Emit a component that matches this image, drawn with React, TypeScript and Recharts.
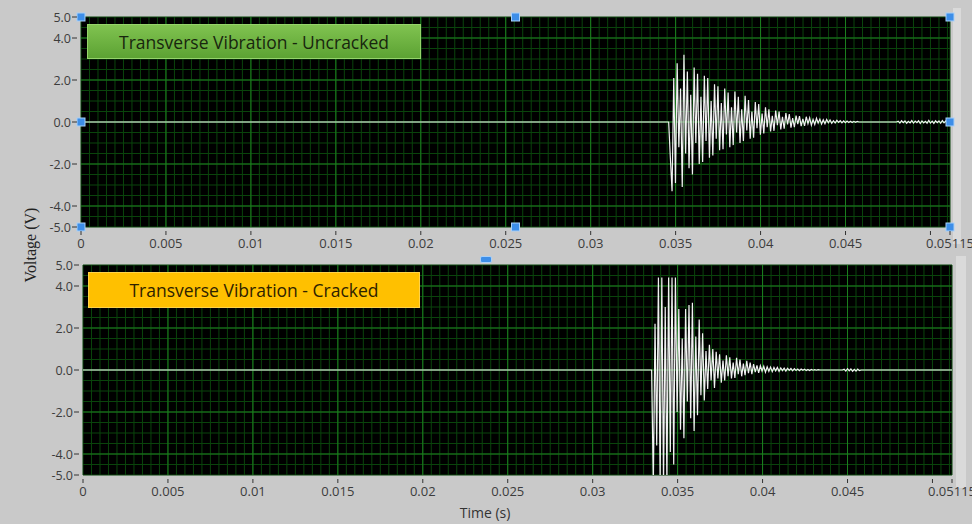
import React from "react"
import { LineChart, Line, XAxis, YAxis, CartesianGrid, ReferenceLine, ReferenceDot } from "recharts"

// axis ticks (labels only on the major ones)
const xMajorTicks = [0, 0.005, 0.01, 0.015, 0.02, 0.025, 0.03, 0.035, 0.04, 0.045, 0.05, 0.05115]
const xTickLabels = ["0", "0.005", "0.01", "0.015", "0.02", "0.025", "0.03", "0.035", "0.04", "0.045", "", "0.05115"]
const yMajorTicks = [5, 4, 2, 0, -2, -4, -5]
const yTickLabels = ["5.0", "4.0", "2.0", "0.0", "-2.0", "-4.0", "-5.0"]
const xEnd = 0.05115
const xMinorStep = 0.0005
const yMinorStep = 0.5

// sampled waveform: t0 + i * dt, like a LabVIEW waveform
const dt = 0.0001

const uncrackedBurstStart = 0.03459
const uncrackedBurst = [
  -1.7, -3.3, 2.1, -2.9, 2.8, -1.2, 1.6, -3.1, 3.2, -1.5,
  2.4, -2.2, 1.3, -2.5, 2.6, -1.0, 2.3, -2.0, 1.2, -1.9,
  2.2, -0.9, 2.1, -1.7, 1.0, -1.6, 1.8, -0.8, 1.7, -1.35,
  0.9, -1.3, 1.6, -0.6, 1.4, -1.2, 0.7, -1.1, 1.45, -0.5,
  1.2, -1.0, 0.6, -0.9, 1.25, -0.4, 1.05, -0.8, 0.5, -0.75,
  0.95, -0.3, 0.85, -0.6, 0.4, -0.55, 0.7, -0.25, 0.6, -0.45,
  0.3, -0.42, 0.55, -0.15, 0.5, -0.35, 0.25, -0.32, 0.42, -0.12,
  0.38, -0.27, 0.18, -0.25, 0.3, -0.1, 0.28, -0.2, 0.15, -0.18,
  0.25, -0.08, 0.2, -0.15, 0.12, -0.12, 0.18, -0.05, 0.14, -0.1,
  0.1, -0.08, 0.12, -0.04, 0.1, -0.06, 0.06, -0.05, 0.08, -0.02,
  0.06, -0.04, 0.05, -0.03, 0.05, -0.02, 0.04, -0.02, 0.03, -0.01, 0.03,
]
const uncrackedTailStart = 0.048
const uncrackedTail = [
  0.04, -0.05, 0.06, -0.03, 0.05, -0.06, 0.03, -0.04, 0.07, -0.05,
  0.04, -0.03, 0.06, -0.07, 0.05, -0.04, 0.03, -0.06, 0.08, -0.05,
  0.04, -0.07, 0.06, -0.03, 0.05, -0.06, 0.07, -0.04, 0.05, -0.08,
]

const crackedBurstStart = 0.03347
const crackedBurst = [
  -5.5, 2.2, -3.6, 4.4, -5.5, 4.4, -5.5, 3.0, -5.5, 4.4,
  -3.9, 4.4, -4.5, 4.4, -2.0, 2.9, -2.85, 1.5, -3.25, 2.9,
  -1.5, 3.1, -2.3, 3.2, -2.9, 1.6, -2.15, 2.4, -1.2, 1.75,
  -1.45, 0.9, -0.9, 1.2, -0.5, 1.0, -0.85, 0.87, -0.4, 0.75,
  -0.6, 0.45, -0.5, 0.7, -0.3, 0.6, -0.4, 0.35, -0.38, 0.58,
  -0.2, 0.5, -0.3, 0.3, -0.25, 0.44, -0.15, 0.35, -0.2, 0.28,
  -0.1, 0.22, -0.14, 0.2, -0.05, 0.18, -0.1, 0.15, -0.06, 0.14,
  -0.08, 0.12, -0.04, 0.12, -0.06, 0.1, -0.03, 0.09, -0.05, 0.08,
  -0.02, 0.07, -0.04, 0.06, -0.02, 0.05, -0.03, 0.05, -0.01, 0.04,
  -0.02, 0.03, -0.02, 0.03, -0.01, 0.02, -0.01, 0.02,
]
const crackedTailStart = 0.0447
const crackedTail = [0.04, -0.05, 0.06, -0.04, 0.05, -0.06, 0.03, -0.05, 0.04, -0.03]

function buildSeries(burstStart: number, burst: number[], tailStart: number, tail: number[]) {
  const pts: { t: number; v: number }[] = [{ t: 0, v: 0 }, { t: burstStart, v: 0 }]
  burst.forEach((v, i) => pts.push({ t: burstStart + (i + 1) * dt, v }))
  pts.push({ t: burstStart + (burst.length + 1) * dt, v: 0 })
  pts.push({ t: tailStart, v: 0 })
  tail.forEach((v, i) => pts.push({ t: tailStart + (i + 1) * dt, v }))
  pts.push({ t: tailStart + (tail.length + 1) * dt, v: 0 })
  pts.push({ t: xEnd, v: 0 })
  return pts
}

const uncrackedData = buildSeries(uncrackedBurstStart, uncrackedBurst, uncrackedTailStart, uncrackedTail)
const crackedData = buildSeries(crackedBurstStart, crackedBurst, crackedTailStart, crackedTail)

const xMinorTicks: number[] = []
for (let i = 0; i * xMinorStep < xEnd; i++) xMinorTicks.push(Number((i * xMinorStep).toFixed(4)))
xMinorTicks.push(xEnd)
const yMinorTicks: number[] = []
for (let i = 0; i <= 20; i++) yMinorTicks.push(-5 + i * yMinorStep)

const handleXs = [0, xEnd / 2, xEnd]
const handleYs = [5, 0, -5]

const TICK_FONT = '"Open Sans", "Noto Sans", sans-serif'
const MINOR_GRID = "#0a440c"
const MAJOR_GRID = "#1c7f1f"

const XTick = (props: any) => {
  const { x, y, payload } = props
  const idx = xMajorTicks.findIndex((m) => Math.abs(m - payload.value) < 1e-7)
  if (idx < 0) return null
  return (
    <g>
      <line x1={x} x2={x} y1={y + 4} y2={y + 8} stroke="#333" />
      <text x={x} y={y + 21} textAnchor="middle" fontSize={13} fill="#3c3c3c" fontFamily={TICK_FONT}>
        {xTickLabels[idx]}
      </text>
    </g>
  )
}

const YTick = (props: any) => {
  const { x, y, payload } = props
  const idx = yMajorTicks.findIndex((m) => Math.abs(m - payload.value) < 1e-7)
  if (idx < 0) return null
  return (
    <g>
      <line x1={x - 9} x2={x - 4} y1={y} y2={y} stroke="#333" />
      <text x={x - 10} y={y + 4.5} textAnchor="end" fontSize={12.5} fill="#3c3c3c" fontFamily={TICK_FONT}>
        {yTickLabels[idx]}
      </text>
    </g>
  )
}

const Handle = (props: any) => (
  <rect x={props.cx - 4} y={props.cy - 4} width={8} height={8} fill="#3d8ee8" stroke="#a8d0f8" strokeWidth={1} />
)

function Panel({ data, top, yWidth, right, handles }: { data: any[]; top: number; yWidth: number; right: number; handles?: boolean }) {
  return (
    <div style={{ position: "absolute", left: 0, top }}>
      <LineChart width={972} height={270} data={data} margin={{ top: 17, right, bottom: 0, left: 0 }}>
        <CartesianGrid stroke={MINOR_GRID} fill="#000" strokeWidth={1} />
        <XAxis
          dataKey="t"
          type="number"
          domain={[0, xEnd]}
          ticks={xMinorTicks}
          interval={0}
          tick={<XTick />}
          tickLine={false}
          axisLine={false}
          tickSize={0}
          tickMargin={0}
          height={43}
          allowDataOverflow
        />
        <YAxis
          type="number"
          domain={[-5, 5]}
          ticks={yMinorTicks}
          interval={0}
          tick={<YTick />}
          tickLine={false}
          axisLine={false}
          tickSize={0}
          tickMargin={0}
          width={yWidth}
          allowDataOverflow
        />
        {xMajorTicks.slice(1, -2).map((v) => (
          <ReferenceLine key={"x" + v} x={v} stroke={MAJOR_GRID} strokeWidth={1} />
        ))}
        {[4, 2, 0, -2, -4].map((v) => (
          <ReferenceLine key={"y" + v} y={v} stroke={MAJOR_GRID} strokeWidth={1} />
        ))}
        <Line type="linear" dataKey="v" stroke="#f2f2f2" strokeWidth={1.2} dot={false} isAnimationActive={false} />
        {handles &&
          handleXs.flatMap((hx) =>
            handleYs
              .filter((hy) => !(hx === xEnd / 2 && hy === 0))
              .map((hy) => (
                <ReferenceDot key={hx + "_" + hy} x={hx} y={hy} ifOverflow="visible" shape={<Handle />} />
              ))
          )}
      </LineChart>
    </div>
  )
}

const boxText: React.CSSProperties = {
  position: "absolute",
  display: "flex",
  alignItems: "center",
  justifyContent: "center",
  fontFamily: TICK_FONT,
  fontSize: 17.5,
  boxSizing: "border-box",
  whiteSpace: "nowrap",
}

export default function App() {
  return (
    <div style={{ position: "absolute", left: 0, top: 0, width: 972, height: 524, background: "#c9c9c9", overflow: "hidden" }}>
      <div style={{ position: "absolute", left: 953, top: 8, width: 8, height: 236, background: "#dadada" }} />
      <div style={{ position: "absolute", left: 956, top: 256, width: 10, height: 232, background: "#dadada" }} />
      <Panel data={uncrackedData} top={0} yWidth={81} right={22} handles />
      <Panel data={crackedData} top={248} yWidth={83} right={20} />
      <div
        style={{
          ...boxText,
          left: 87,
          top: 24,
          width: 334,
          height: 35,
          background: "linear-gradient(#80c350, #5ca233)",
          border: "1px solid #95d46a",
          color: "#18260e",
        }}
      >
        Transverse Vibration - Uncracked
      </div>
      <div
        style={{
          ...boxText,
          left: 88,
          top: 272,
          width: 332,
          height: 36,
          background: "#ffc000",
          border: "1px solid #ffd24a",
          color: "#2e2200",
        }}
      >
        Transverse Vibration - Cracked
      </div>
      <div style={{ position: "absolute", left: 480, top: 256, width: 10, height: 5, borderRadius: 2, background: "#3d8ee8", border: "1px solid #a8d0f8" }} />
      <div
        style={{
          position: "absolute",
          left: 31,
          top: 245,
          transform: "translate(-50%, -50%) rotate(-90deg)",
          fontFamily: '"Liberation Serif", "Times New Roman", serif',
          fontSize: 16,
          color: "#222",
          whiteSpace: "nowrap",
        }}
      >
        Voltage (V)
      </div>
      <div
        style={{
          position: "absolute",
          left: 485,
          top: 512,
          transform: "translate(-50%, -50%)",
          fontFamily: TICK_FONT,
          fontSize: 14,
          color: "#333",
          whiteSpace: "nowrap",
        }}
      >
        Time (s)
      </div>
    </div>
  )
}
